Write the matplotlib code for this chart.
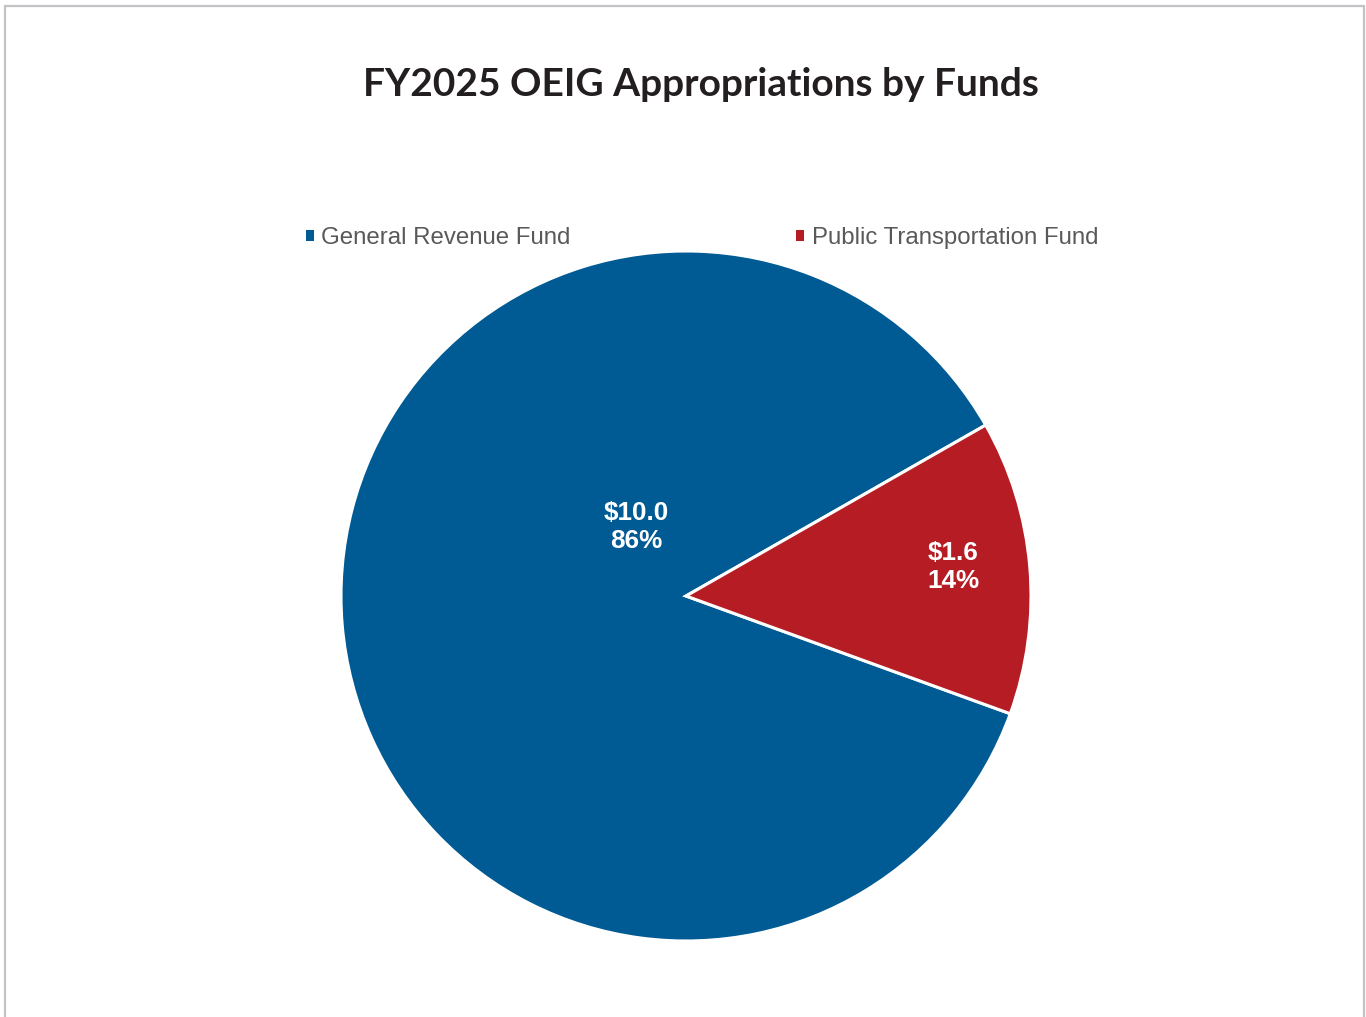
import matplotlib
matplotlib.use('Agg')
import matplotlib.pyplot as plt
from matplotlib.patches import Patch, Rectangle

# data
funds = ['General Revenue Fund', 'Public Transportation Fund']
amounts = [10.0, 1.6]       # $ millions
shares = [86, 14]           # percent as shown
colors = ['#005A94', '#B51C24']

W, H = 1366, 1017
fig = plt.figure(figsize=(W / 100, H / 100), dpi=100)

# light grey frame round the chart area
fig.patches.append(Rectangle((5 / W, -0.01), (1364 - 5) / W, 1.01 - 6 / H,
                             transform=fig.transFigure, fill=False,
                             edgecolor='#c3c3c7', linewidth=1.6))

cx, cy, r = 686, 596, 345
ax = fig.add_axes([(cx - r) / W, (H - cy - r) / H, 2 * r / W, 2 * r / H])
wedges, _ = ax.pie(amounts, colors=colors, startangle=29.7, counterclock=True,
                   radius=1, wedgeprops=dict(edgecolor='white', linewidth=2.2))
ax.set_xlim(-1, 1)
ax.set_ylim(-1, 1)
ax.set_aspect('equal')
ax.axis('off')

# data labels (Excel style placement)
label_pos = [(-0.145, 0.2), (0.774, 0.084)]
for (x, y), amt, pct in zip(label_pos, amounts, shares):
    ax.text(x, y, '${:.1f}\n{}%'.format(amt, pct), ha='center', va='center',
            color='white', fontsize=18.8, fontweight='bold',
            family='Liberation Sans', linespacing=1.2)

fig.text(701 / W, 1 - 85 / H, 'FY2025 OEIG Appropriations by Funds',
         ha='center', va='center', fontsize=28, fontweight='bold',
         family='Lato', color='#231f20')

handles = [Patch(facecolor=c, edgecolor='none') for c in colors]
fig.legend(handles, funds, ncol=2, loc='center',
           bbox_to_anchor=(702 / W, 1 - 238 / H), frameon=False,
           handlelength=0.33, handleheight=0.33, handletextpad=0.3,
           columnspacing=9.4,
           prop=dict(family='Liberation Sans', size=17.3), labelcolor='#595959')

fig.savefig('out.png', dpi=100)
